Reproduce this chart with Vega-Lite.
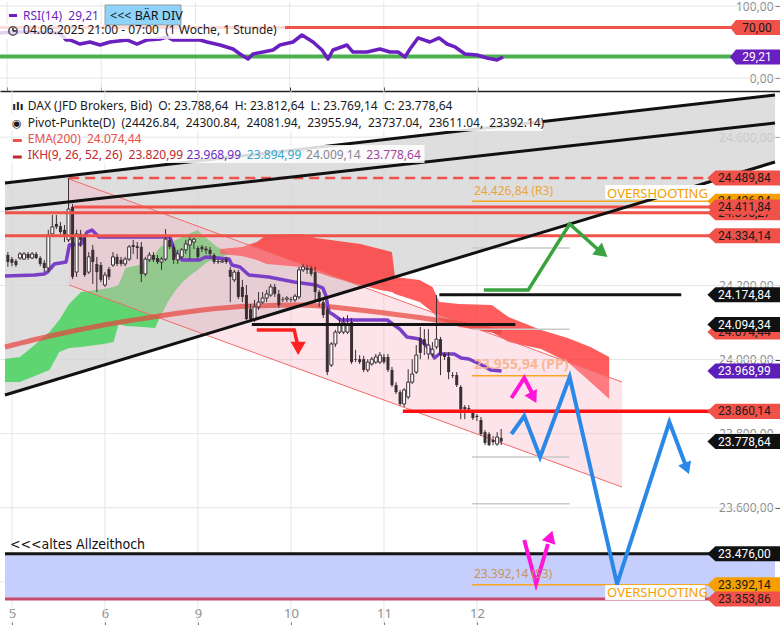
{
"$schema": "https://vega.github.io/schema/vega-lite/v6.json",
"padding": 0,
"spacing": 0,
"bounds": "flush",
"background": "white",
"config": {"view": {"stroke": null}, "font": "Noto Sans", "axis": {"labelFont": "Noto Sans", "minExtent": 0}},
"datasets": {
"kerzen": [
{"i":-1,"o":24282,"h":24290,"l":24250,"c":24263},{"i":0,"o":24271,"h":24277,"l":24252,"c":24261},{"i":1,"o":24266,"h":24271,"l":24250,"c":24255},{"i":2,"o":24274,"h":24290,"l":24269,"c":24285},{"i":3,"o":24271,"h":24290,"l":24269,"c":24285},{"i":4,"o":24285,"h":24290,"l":24269,"c":24274},{"i":5,"o":24274,"h":24290,"l":24271,"c":24285},{"i":6,"o":24285,"h":24290,"l":24271,"c":24274},{"i":7,"o":24274,"h":24279,"l":24252,"c":24258},{"i":8,"o":24261,"h":24269,"l":24236,"c":24247},
{"i":9,"o":24247,"h":24350,"l":24236,"c":24336},{"i":10,"o":24339,"h":24390,"l":24333,"c":24358},{"i":11,"o":24366,"h":24390,"l":24352,"c":24358},{"i":12,"o":24360,"h":24371,"l":24339,"c":24344},{"i":13,"o":24350,"h":24363,"l":24317,"c":24336},{"i":14,"o":24323,"h":24490,"l":24317,"c":24406},{"i":15,"o":24412,"h":24420,"l":24217,"c":24223},{"i":16,"o":24236,"h":24350,"l":24223,"c":24339},{"i":17,"o":24339,"h":24350,"l":24304,"c":24323},{"i":18,"o":24328,"h":24339,"l":24223,"c":24228},
{"i":19,"o":24236,"h":24290,"l":24231,"c":24277},{"i":20,"o":24296,"h":24309,"l":24204,"c":24263},{"i":21,"o":24258,"h":24277,"l":24182,"c":24236},{"i":22,"o":24255,"h":24263,"l":24209,"c":24215},{"i":23,"o":24201,"h":24236,"l":24196,"c":24228},{"i":24,"o":24244,"h":24250,"l":24215,"c":24223},{"i":25,"o":24255,"h":24290,"l":24250,"c":24277},{"i":26,"o":24277,"h":24285,"l":24252,"c":24258},{"i":27,"o":24269,"h":24277,"l":24252,"c":24258},{"i":28,"o":24258,"h":24277,"l":24252,"c":24271},
{"i":29,"o":24271,"h":24309,"l":24266,"c":24304},{"i":30,"o":24309,"h":24323,"l":24285,"c":24304},{"i":31,"o":24306,"h":24317,"l":24271,"c":24301},{"i":32,"o":24304,"h":24317,"l":24209,"c":24231},{"i":33,"o":24231,"h":24277,"l":24225,"c":24271},{"i":34,"o":24269,"h":24290,"l":24263,"c":24282},{"i":35,"o":24282,"h":24290,"l":24263,"c":24269},{"i":36,"o":24274,"h":24282,"l":24258,"c":24263},{"i":37,"o":24263,"h":24277,"l":24242,"c":24271},{"i":38,"o":24271,"h":24352,"l":24266,"c":24325},
{"i":39,"o":24323,"h":24331,"l":24298,"c":24304},{"i":40,"o":24304,"h":24312,"l":24258,"c":24269},{"i":41,"o":24269,"h":24296,"l":24258,"c":24285},{"i":42,"o":24277,"h":24301,"l":24271,"c":24296},{"i":43,"o":24296,"h":24323,"l":24285,"c":24312},{"i":44,"o":24309,"h":24331,"l":24271,"c":24323},{"i":45,"o":24317,"h":24328,"l":24298,"c":24325},{"i":46,"o":24301,"h":24306,"l":24271,"c":24277},{"i":47,"o":24304,"h":24309,"l":24290,"c":24298},{"i":48,"o":24296,"h":24306,"l":24285,"c":24298},
{"i":49,"o":24296,"h":24304,"l":24279,"c":24285},{"i":50,"o":24282,"h":24287,"l":24258,"c":24263},{"i":51,"o":24266,"h":24271,"l":24258,"c":24263},{"i":52,"o":24263,"h":24271,"l":24261,"c":24266},{"i":53,"o":24271,"h":24277,"l":24258,"c":24263},{"i":54,"o":24242,"h":24250,"l":24155,"c":24223},{"i":55,"o":24215,"h":24242,"l":24209,"c":24236},{"i":56,"o":24236,"h":24242,"l":24163,"c":24169},{"i":57,"o":24196,"h":24215,"l":24155,"c":24169},{"i":58,"o":24174,"h":24201,"l":24107,"c":24109},
{"i":59,"o":24136,"h":24150,"l":24101,"c":24109},{"i":60,"o":24109,"h":24161,"l":24101,"c":24142},{"i":61,"o":24142,"h":24182,"l":24134,"c":24155},{"i":62,"o":24155,"h":24182,"l":24150,"c":24166},{"i":63,"o":24166,"h":24188,"l":24155,"c":24177},{"i":64,"o":24174,"h":24204,"l":24169,"c":24196},{"i":65,"o":24196,"h":24204,"l":24169,"c":24177},{"i":66,"o":24177,"h":24188,"l":24139,"c":24147},{"i":67,"o":24163,"h":24169,"l":24155,"c":24161},{"i":68,"o":24163,"h":24171,"l":24155,"c":24166},
{"i":69,"o":24163,"h":24169,"l":24155,"c":24161},{"i":70,"o":24161,"h":24177,"l":24155,"c":24171},{"i":71,"o":24169,"h":24250,"l":24163,"c":24242},{"i":72,"o":24242,"h":24258,"l":24236,"c":24250},{"i":73,"o":24247,"h":24255,"l":24231,"c":24242},{"i":74,"o":24247,"h":24252,"l":24225,"c":24231},{"i":75,"o":24236,"h":24250,"l":24155,"c":24182},{"i":76,"o":24182,"h":24188,"l":24142,"c":24155},{"i":77,"o":24155,"h":24161,"l":24112,"c":24120},{"i":78,"o":24136,"h":24142,"l":23958,"c":23966},
{"i":79,"o":23985,"h":24047,"l":23980,"c":24042},{"i":80,"o":24042,"h":24080,"l":24034,"c":24074},{"i":81,"o":24074,"h":24112,"l":24069,"c":24093},{"i":82,"o":24074,"h":24115,"l":24069,"c":24101},{"i":83,"o":24074,"h":24120,"l":24069,"c":24096},{"i":84,"o":24101,"h":24112,"l":23988,"c":23993},{"i":85,"o":24001,"h":24026,"l":23993,"c":23999},{"i":86,"o":24001,"h":24012,"l":23988,"c":23993},{"i":87,"o":24001,"h":24010,"l":23966,"c":23972},{"i":88,"o":23972,"h":24001,"l":23966,"c":23993},
{"i":89,"o":23988,"h":24007,"l":23983,"c":24001},{"i":90,"o":23993,"h":24015,"l":23988,"c":24007},{"i":91,"o":23993,"h":24020,"l":23988,"c":24012},{"i":92,"o":24007,"h":24015,"l":23988,"c":23993},{"i":93,"o":24007,"h":24015,"l":23966,"c":23972},{"i":94,"o":23972,"h":23980,"l":23926,"c":23931},{"i":95,"o":23931,"h":23939,"l":23907,"c":23912},{"i":96,"o":23912,"h":23918,"l":23875,"c":23880},{"i":97,"o":23880,"h":23923,"l":23872,"c":23918},{"i":98,"o":23899,"h":23974,"l":23893,"c":23939},
{"i":99,"o":23939,"h":24001,"l":23934,"c":23961},{"i":100,"o":23966,"h":24039,"l":23961,"c":24012},{"i":101,"o":24058,"h":24088,"l":24001,"c":24018},{"i":102,"o":24055,"h":24082,"l":24012,"c":24039},{"i":103,"o":24015,"h":24082,"l":24001,"c":24039},{"i":104,"o":24015,"h":24047,"l":24007,"c":24028},{"i":105,"o":24034,"h":24174,"l":24028,"c":24055},{"i":106,"o":24055,"h":24061,"l":23958,"c":24012},{"i":107,"o":24015,"h":24020,"l":23999,"c":24007},{"i":108,"o":24007,"h":24020,"l":23947,"c":23966},
{"i":109,"o":23958,"h":23966,"l":23950,"c":23956},{"i":110,"o":23958,"h":23966,"l":23926,"c":23931},{"i":111,"o":23926,"h":23931,"l":23839,"c":23866},{"i":112,"o":23872,"h":23877,"l":23839,"c":23866},{"i":113,"o":23869,"h":23877,"l":23858,"c":23866},{"i":114,"o":23858,"h":23864,"l":23837,"c":23842},{"i":115,"o":23848,"h":23853,"l":23834,"c":23845},{"i":116,"o":23837,"h":23845,"l":23794,"c":23799},{"i":117,"o":23804,"h":23810,"l":23769,"c":23775},{"i":118,"o":23799,"h":23804,"l":23767,"c":23769},
{"i":119,"o":23783,"h":23794,"l":23769,"c":23777},{"i":120,"o":23772,"h":23804,"l":23767,"c":23791},{"i":121,"o":23788.64,"h":23812.64,"l":23769.14,"c":23778.64}
],
"rsi": [
{"i":-1.71,"v":62.5},{"i":0.73,"v":63.9},{"i":5.62,"v":63.9},{"i":12.94,"v":62.5},{"i":14.4,"v":52.8},{"i":15.38,"v":52.8},{"i":17.82,"v":47.2},{"i":20.26,"v":50.0},{"i":22.71,"v":45.8},{"i":25.15,"v":50.0},{"i":29.3,"v":52.8},{"i":31.74,"v":47.2},{"i":34.18,"v":52.8},{"i":37.35,"v":54.2},{"i":39.06,"v":56.9},{"i":40.53,"v":52.8},{"i":43.95,"v":52.8},{"i":47.12,"v":52.8},{"i":48.83,"v":50.0},{"i":52.0,"v":45.8},{"i":55.18,"v":40.3},{"i":56.88,"v":33.3},{"i":58.84,"v":26.4},{"i":60.06,"v":33.3},{"i":62.5,"v":36.1},{"i":64.94,"v":38.9},{"i":66.65,"v":45.8},{"i":69.82,"v":50.0},{"i":72.02,"v":59.7},{"i":74.71,"v":50.0},{"i":76.9,"v":38.9},{"i":78.37,"v":26.4},{"i":79.59,"v":38.9},{"i":83.01,"v":45.8},{"i":84.47,"v":36.1},{"i":87.89,"v":36.1},{"i":91.06,"v":40.3},{"i":93.51,"v":36.1},{"i":95.46,"v":36.1},{"i":97.17,"v":29.2},{"i":98.39,"v":40.3},{"i":100.34,"v":55.6},{"i":103.27,"v":50.0},{"i":105.47,"v":55.6},{"i":107.42,"v":47.2},{"i":109.38,"v":43.1},{"i":111.82,"v":33.3},{"i":114.75,"v":31.9},{"i":117.19,"v":27.8},{"i":119.63,"v":25.0},{"i":121.09,"v":29.21}
],
"ema": [
{"i":-1.71,"p":24033.8},{"i":10.5,"p":24066.2},{"i":22.7,"p":24093.2},{"i":34.9,"p":24114.8},{"i":47.1,"p":24133.7},{"i":59.3,"p":24144.5},{"i":71.5,"p":24147.2},{"i":83.7,"p":24136.4},{"i":95.9,"p":24120.2},{"i":108.2,"p":24101.3},{"i":121.1,"p":24074.44}
],
"kijun": [
{"i":-1.71,"p":24225.4},{"i":5.6,"p":24228.1},{"i":8.0,"p":24230.8},{"i":8.8,"p":24236.2},{"i":10.5,"p":24257.8},{"i":13.4,"p":24263.2},{"i":14.2,"p":24309.0},{"i":17.1,"p":24311.7},{"i":18.6,"p":24344.1},{"i":19.8,"p":24349.5},{"i":21.5,"p":24330.6},{"i":39.1,"p":24330.6},{"i":40.5,"p":24282.1},{"i":42.2,"p":24268.6},{"i":46.4,"p":24268.6},{"i":47.9,"p":24276.7},{"i":53.7,"p":24271.3},{"i":54.4,"p":24255.0},{"i":56.4,"p":24249.7},{"i":58.6,"p":24228.1},{"i":63.5,"p":24222.7},{"i":69.8,"p":24209.3},{"i":75.2,"p":24201.1},{"i":76.9,"p":24193.0},{"i":77.6,"p":24174.1},{"i":78.4,"p":24128.3},{"i":79.6,"p":24120.2},{"i":81.3,"p":24106.7},{"i":92.8,"p":24106.7},{"i":95.9,"p":24082.4},{"i":97.7,"p":24060.8},{"i":100.8,"p":24055.4},{"i":103.3,"p":24028.4},{"i":104.5,"p":24004.1},{"i":105.7,"p":24014.9},{"i":109.4,"p":24014.9},{"i":111.1,"p":24004.1},{"i":113.0,"p":24001.4},{"i":116.2,"p":23985.2},{"i":118.4,"p":23971.7},{"i":121.1,"p":23968.99}
],
"gruen": [
{"i":-1.71,"oben":24001.4,"unten":23939.3},{"i":1.95,"oben":24006.8,"unten":23939.3},{"i":5.62,"oben":24039.2,"unten":23955.5},{"i":9.28,"oben":24074.3,"unten":23971.7},{"i":11.72,"oben":24106.7,"unten":24020.3},{"i":14.16,"oben":24149.8,"unten":24031.1},{"i":17.09,"oben":24182.2,"unten":24033.8},{"i":22.71,"oben":24190.3,"unten":24041.9},{"i":25.15,"oben":24195.7,"unten":24047.3},{"i":26.37,"oben":24201.1,"unten":24095.9},{"i":28.08,"oben":24247.0,"unten":24090.5},{"i":32.47,"oben":24257.8,"unten":24087.8},{"i":35.4,"oben":24284.8,"unten":24085.1},{"i":36.62,"oben":24303.7,"unten":24114.8},{"i":38.57,"oben":24311.7,"unten":24155.2},{"i":40.53,"oben":24322.5,"unten":24187.6},{"i":42.24,"oben":24330.6,"unten":24209.2},{"i":44.19,"oben":24341.4,"unten":24228.1},{"i":45.9,"oben":24349.5,"unten":24241.6},{"i":48.34,"oben":24325.2,"unten":24263.2},{"i":50.78,"oben":24303.7,"unten":24274.0},{"i":53.96,"oben":24284.8,"unten":24284.8}
],
"rotwolke": [
{"i":51.51,"oben":24298.3,"unten":24284.8},{"i":56.88,"oben":24303.7,"unten":24279.4},{"i":60.55,"oben":24317.1,"unten":24268.6},{"i":62.99,"oben":24336.0,"unten":24257.8},{"i":71.53,"oben":24338.7,"unten":24249.7},{"i":75.2,"oben":24327.9,"unten":24236.2},{"i":78.86,"oben":24322.5,"unten":24222.7},{"i":86.18,"oben":24311.7,"unten":24201.1},{"i":91.06,"oben":24298.3,"unten":24187.6},{"i":93.99,"oben":24290.2,"unten":24182.2},{"i":94.73,"oben":24222.7,"unten":24176.8},{"i":100.83,"oben":24214.6,"unten":24155.2},{"i":104.0,"oben":24195.7,"unten":24128.3},{"i":105.71,"oben":24155.2,"unten":24106.7},{"i":110.6,"oben":24149.8,"unten":24087.8},{"i":118.65,"oben":24147.1,"unten":24074.3},{"i":122.8,"oben":24114.8,"unten":24047.3},{"i":130.86,"oben":24079.7,"unten":24028.4},{"i":137.45,"oben":24058.1,"unten":23993.3},{"i":143.07,"oben":24033.8,"unten":23939.3},{"i":147.71,"oben":24006.8,"unten":23893.4}
],
"hlinien": [
{"i":15.38,"i2":188.72,"p":24411.84,"typ":"rot"},
{"i":-1.709,"i2":188.72,"p":24396.27,"typ":"rot"},
{"i":-1.709,"i2":188.72,"p":24334.14,"typ":"rot"},
{"i":113.77,"i2":188.72,"p":24426.84,"typ":"orange"},
{"i":113.77,"i2":137.94,"p":24300.84,"typ":"pivot"},
{"i":113.77,"i2":137.94,"p":24081.94,"typ":"pivot"},
{"i":113.77,"i2":137.94,"p":23955.94,"typ":"orange"},
{"i":113.77,"i2":137.94,"p":23737.04,"typ":"pivot"},
{"i":113.77,"i2":137.94,"p":23611.04,"typ":"pivot"},
{"i":113.77,"i2":188.72,"p":23392.14,"typ":"orange"},
{"i":105.71,"i2":165.53,"p":24174.84,"typ":"schwarz"},
{"i":59.33,"i2":124.51,"p":24094.34,"typ":"schwarz"},
{"i":96.68,"i2":188.72,"p":23860.14,"typ":"rot2"},
{"i":-1.709,"i2":188.72,"p":23476.0,"typ":"schwarz"},
{"i":-1.709,"i2":188.72,"p":23353.86,"typ":"tief"}
],
"trend": [
{"i":-1.709,"p":24476.4,"i2":188.72,"p2":24713.8},
{"i":-1.709,"p":24406.2,"i2":188.72,"p2":24638.2},
{"i":-1.709,"p":23904.3,"i2":188.72,"p2":24533.0}
],
"flaggen": [
{"p":24426.84,"txt":"24.426,84","typ":"orange","ebene":0},
{"p":24396.27,"txt":"24.396,27","typ":"rot","ebene":0},
{"p":24074.44,"txt":"24.074,44","typ":"rot","ebene":0},
{"p":24489.84,"txt":"24.489,84","typ":"rot","ebene":1},
{"p":24411.84,"txt":"24.411,84","typ":"rot","ebene":1},
{"p":24334.14,"txt":"24.334,14","typ":"rot","ebene":1},
{"p":24174.84,"txt":"24.174,84","typ":"schwarz","ebene":1},
{"p":24094.34,"txt":"24.094,34","typ":"schwarz","ebene":1},
{"p":23968.99,"txt":"23.968,99","typ":"lila","ebene":1},
{"p":23860.14,"txt":"23.860,14","typ":"rot","ebene":1},
{"p":23778.64,"txt":"23.778,64","typ":"schwarz","ebene":1},
{"p":23476.0,"txt":"23.476,00","typ":"schwarz","ebene":1},
{"p":23392.14,"txt":"23.392,14","typ":"orange","ebene":1},
{"p":23353.86,"txt":"23.353,86","typ":"rot","ebene":1}
],
"legende": [
{"i":3.91,"p":24673.3,"txt":"DAX (JFD Brokers, Bid)\u00a0\u00a0O: 23.788,64\u00a0\u00a0H: 23.812,64\u00a0\u00a0L: 23.769,14\u00a0\u00a0C: 23.778,64","reihe":"DAX"},
{"i":3.91,"p":24628.8,"txt":"Pivot-Punkte(D)\u00a0\u00a0(24426.84,\u00a0\u00a024300.84,\u00a0\u00a024081.94,\u00a0\u00a023955.94,\u00a0\u00a023737.04,\u00a0\u00a023611.04,\u00a0\u00a023392.14)","reihe":"DAX"},
{"i":3.91,"p":24584.3,"txt":"EMA(200)\u00a0\u00a024.074,44","reihe":"EMA"},
{"i":3.91,"p":24539.8,"txt":"IKH(9, 26, 52, 26)\u00a0\u00a023.820,99","reihe":"Tenkan"},
{"i":43.2,"p":24539.8,"txt":"23.968,99","reihe":"Kijun"},
{"i":58.1,"p":24539.8,"txt":"23.894,99","reihe":"SenkouA"},
{"i":72.75,"p":24539.8,"txt":"24.009,14","reihe":"SenkouB"},
{"i":87.65,"p":24539.8,"txt":"23.778,64","reihe":"Chikou"}
],
"gitter_x": [{"i":0},{"i":23},{"i":46},{"i":69},{"i":92},{"i":115}],
"gitter_p": [{"p":23400},{"p":23600},{"p":23800},{"p":24000},{"p":24200},{"p":24400},{"p":24600}],
"gitter_v": [{"v":0},{"v":100}]
},
"vconcat": [
{
"width": 780,
"height": 89,
"layer": [
{"data": {"name": "gitter_v"},
 "mark": {"type": "rule", "color": "#e6e6e6", "strokeWidth": 1, "clip": true},
 "encoding": {"y": {"field": "v", "type": "quantitative", "scale": {"domain": [-18, 105.5], "nice": false, "zero": false},
   "axis": {"orient": "left", "offset": -780, "values": [0, 100], "labelExpr": "replace(format(datum.value, '.2f'), '.', ',')", "labelBaseline": {"condition": {"test": "datum.value == 100", "value": "top"}, "value": "middle"}, "labelOffset": {"condition": {"test": "datum.value == 100", "value": -4}, "value": 0}, "title": null, "domain": false, "tickSize": 5, "tickColor": "#333", "labelColor": "#8c8c8c", "labelFontSize": 12, "labelPadding": 2, "grid": false}}}},
{"data": {"name": "gitter_x"},
 "mark": {"type": "rule", "color": "#e6e6e6", "strokeWidth": 1, "clip": true},
 "encoding": {"x": {"field": "i", "type": "quantitative", "scale": {"domain": [-1.709, 188.72], "nice": false, "zero": false},
     "axis": {"orient": "top", "offset": -89, "values": [0, 23, 46, 69, 92, 115], "labels": false, "title": null, "domain": true, "domainColor": "#222", "domainWidth": 1.5, "tickSize": 4, "tickColor": "#222", "grid": false}}}},
{"data": {"values": [{"v": 70}]},
 "mark": {"type": "rule", "color": "#f0524a", "strokeWidth": 3, "clip": true},
 "encoding": {"y": {"field": "v", "type": "quantitative"}}},
{"data": {"values": [{"v": 30}]},
 "mark": {"type": "rule", "color": "#4caf50", "strokeWidth": 4, "clip": true},
 "encoding": {"y": {"field": "v", "type": "quantitative"}}},
{"data": {"name": "rsi"},
 "mark": {"type": "line", "color": "#6a1fc0", "strokeWidth": 3.5, "strokeJoin": "round", "clip": true},
 "encoding": {"x": {"field": "i", "type": "quantitative"}, "y": {"field": "v", "type": "quantitative"}}},
{"data": {"values": [{"i": -1.709, "i2": 67.87, "v": 75.0, "v2": 54.2}]},
 "mark": {"type": "rect", "color": "white", "opacity": 0.8, "clip": true},
 "encoding": {"x": {"field": "i", "type": "quantitative"}, "x2": {"field": "i2"}, "y": {"field": "v", "type": "quantitative"}, "y2": {"field": "v2"}}},
{"data": {"values": [{"i": 23.93, "i2": 42.48, "v": 101.4, "v2": 73.6}]},
 "mark": {"type": "rect", "fill": "#8fd3fb", "stroke": "#9a9a9a", "strokeWidth": 1},
 "encoding": {"x": {"field": "i", "type": "quantitative"}, "x2": {"field": "i2"}, "y": {"field": "v", "type": "quantitative"}, "y2": {"field": "v2"}}},
{"data": {"values": [{"i": 0.49, "i2": 2.44, "v": 86.8}]},
 "mark": {"type": "rule", "color": "#6a1fc0", "strokeWidth": 3},
 "encoding": {"x": {"field": "i", "type": "quantitative"}, "x2": {"field": "i2"}, "y": {"field": "v", "type": "quantitative"}}},
{"data": {"values": [{"i": 3.91, "v": 80.6, "txt": "RSI(14)\u00a0\u00a029,21"}]},
 "mark": {"type": "text", "align": "left", "baseline": "alphabetic", "fontSize": 12, "color": "#6a1fc0"},
 "encoding": {"x": {"field": "i", "type": "quantitative"}, "y": {"field": "v", "type": "quantitative"}, "text": {"field": "txt"}}},
{"data": {"values": [{"i": 25.15, "v": 80.2, "txt": "<<< BÄR DIV"}]},
 "mark": {"type": "text", "align": "left", "baseline": "alphabetic", "fontSize": 12.5, "color": "#111"},
 "encoding": {"x": {"field": "i", "type": "quantitative"}, "y": {"field": "v", "type": "quantitative"}, "text": {"field": "txt"}}},
{"data": {"values": [{"i": 3.91, "v": 61.1, "txt": "04.06.2025 21:00 - 07:00\u00a0\u00a0(1 Woche, 1 Stunde)"}]},
 "mark": {"type": "text", "align": "left", "baseline": "alphabetic", "fontSize": 12, "color": "#1a1a1a"},
 "encoding": {"x": {"field": "i", "type": "quantitative"}, "y": {"field": "v", "type": "quantitative"}, "text": {"field": "txt"}}},
{"data": {"values": [{"i": 1.46, "v": 65.3}]},
 "mark": {"type": "point", "shape": "circle", "size": 70, "filled": false, "stroke": "#1a1a1a", "strokeWidth": 1.6},
 "encoding": {"x": {"field": "i", "type": "quantitative"}, "y": {"field": "v", "type": "quantitative"}}},
{"data": {"values": [{"i": 1.46, "i2": 1.46, "v": 65.3, "v2": 69.5}, {"i": 1.46, "i2": 2.3, "v": 65.3, "v2": 65.3}]},
 "mark": {"type": "rule", "color": "#1a1a1a", "strokeWidth": 1.4},
 "encoding": {"x": {"field": "i", "type": "quantitative"}, "x2": {"field": "i2"}, "y": {"field": "v", "type": "quantitative"}, "y2": {"field": "v2"}}},
{"data": {"values": [{"v": 70, "txt": "70,00", "typ": "rot"}, {"v": 29.21, "txt": "29,21", "typ": "lila"}]},
 "mark": {"type": "point", "shape": "M-1,0L-0.78,-0.278L1,-0.278L1,0.278L-0.78,0.278Z", "size": 2916, "filled": true, "opacity": 1, "strokeWidth": 0, "clip": true},
 "encoding": {"x": {"datum": 183.1, "type": "quantitative"}, "y": {"field": "v", "type": "quantitative"},
   "color": {"condition": {"test": "datum.typ === 'lila'", "value": "#6a1fc0"}, "value": "#f0524a"}}},
{"data": {"values": [{"v": 70, "txt": "70,00", "typ": "rot"}, {"v": 29.21, "txt": "29,21", "typ": "lila"}]},
 "mark": {"type": "text", "align": "center", "baseline": "middle", "fontSize": 12, "font": "Roboto"},
 "encoding": {"x": {"datum": 183.1, "type": "quantitative"}, "y": {"field": "v", "type": "quantitative"}, "text": {"field": "txt"},
   "color": {"condition": {"test": "datum.typ === 'lila'", "value": "#ffffff"}, "value": "#1a1a1a"}}}
]
},
{
"width": 780,
"height": 536,
"layer": [
{"data": {"name": "gitter_p"},
 "mark": {"type": "rule", "color": "#e6e6e6", "strokeWidth": 1, "clip": true},
 "encoding": {"y": {"field": "p", "type": "quantitative", "scale": {"domain": [23278.3, 24724.6], "nice": false, "zero": false},
     "axis": {"orient": "left", "offset": -780, "values": [23400, 23600, 23800, 24000, 24200, 24400, 24600], "labelExpr": "replace(replace(replace(format(datum.value, ',.2f'), ',', '#'), '.', ','), '#', '.')", "title": null, "domain": false, "tickSize": 5, "tickColor": "#333", "labelColor": "#8c8c8c", "labelFontSize": 12, "labelPadding": 2, "grid": false}}}},
{"data": {"name": "gitter_x"},
 "mark": {"type": "rule", "color": "#e6e6e6", "strokeWidth": 1, "clip": true},
 "encoding": {"x": {"field": "i", "type": "quantitative", "scale": {"domain": [-1.709, 188.72], "nice": false, "zero": false},
     "axis": {"orient": "top", "offset": -536, "values": [0, 23, 46, 69, 92, 115], "labelExpr": "datum.value == 0 ? '5' : datum.value == 23 ? '6' : datum.value == 46 ? '9' : datum.value == 69 ? '10' : datum.value == 92 ? '11' : '12'", "labelFlush": false, "title": null, "domain": false, "tickSize": 5, "tickColor": "#333", "labelColor": "#8c8c8c", "labelFontSize": 13, "labelPadding": 2, "grid": false}}}},
{"data": {"values": [{"i": -1.709, "a": 24476.4, "l": 23904.3}, {"i": 188.72, "a": 24713.8, "l": 24533.0}]},
 "mark": {"type": "area", "color": "#d6d6d6", "opacity": 0.8, "clip": true},
 "encoding": {"x": {"field": "i", "type": "quantitative"}, "y": {"field": "a", "type": "quantitative"}, "y2": {"field": "l"}}},
{"data": {"values": [{"i": -1.709, "p": 23476.0, "p2": 23353.86}, {"i": 188.72, "p": 23476.0, "p2": 23353.86}]},
 "mark": {"type": "area", "color": "#c3cbfb", "opacity": 0.95, "clip": true},
 "encoding": {"x": {"field": "i", "type": "quantitative"}, "y": {"field": "p", "type": "quantitative"}, "y2": {"field": "p2"}}},
{"data": {"name": "gruen"},
 "mark": {"type": "area", "color": "#3fd256", "opacity": 0.8, "clip": true},
 "encoding": {"x": {"field": "i", "type": "quantitative"}, "y": {"field": "oben", "type": "quantitative"}, "y2": {"field": "unten"}}},
{"data": {"name": "rotwolke"},
 "mark": {"type": "area", "color": "#ff3030", "opacity": 0.78, "clip": true},
 "encoding": {"x": {"field": "i", "type": "quantitative"}, "y": {"field": "oben", "type": "quantitative"}, "y2": {"field": "unten"}}},
{"data": {"values": [{"i": 14.16, "oben": 24487.1, "unten": 24201.1}, {"i": 150.88, "oben": 23939.4, "unten": 23656.0}]},
 "mark": {"type": "area", "color": "#f6b3c4", "opacity": 0.35, "clip": true},
 "encoding": {"x": {"field": "i", "type": "quantitative"}, "y": {"field": "oben", "type": "quantitative"}, "y2": {"field": "unten"}}},
{"data": {"values": [{"i": 14.16, "p": 24487.1, "i2": 150.88, "p2": 23939.4}, {"i": 14.16, "p": 24201.1, "i2": 150.88, "p2": 23656.0}]},
 "mark": {"type": "rule", "color": "#f26b6b", "strokeWidth": 1, "clip": true},
 "encoding": {"x": {"field": "i", "type": "quantitative"}, "x2": {"field": "i2"}, "y": {"field": "p", "type": "quantitative"}, "y2": {"field": "p2"}}},
{"data": {"name": "ema"},
 "mark": {"type": "line", "color": "#e8453f", "opacity": 0.72, "strokeWidth": 5, "interpolate": "monotone", "clip": true},
 "encoding": {"x": {"field": "i", "type": "quantitative"}, "y": {"field": "p", "type": "quantitative"}}},
{"data": {"name": "kijun"},
 "mark": {"type": "line", "color": "#7a3fc6", "strokeWidth": 3.5, "strokeJoin": "round", "clip": true},
 "encoding": {"x": {"field": "i", "type": "quantitative"}, "y": {"field": "p", "type": "quantitative"}}},
{"data": {"name": "kerzen"},
 "mark": {"type": "rule", "color": "#3b2e33", "strokeWidth": 1, "clip": true},
 "encoding": {"x": {"field": "i", "type": "quantitative"}, "y": {"field": "h", "type": "quantitative"}, "y2": {"field": "l"}}},
{"data": {"name": "kerzen"},
 "transform": [{"filter": "datum.c < datum.o"}],
 "mark": {"type": "bar", "width": 3, "color": "#3b2e33", "clip": true},
 "encoding": {"x": {"field": "i", "type": "quantitative"}, "y": {"field": "o", "type": "quantitative"}, "y2": {"field": "c"}}},
{"data": {"name": "kerzen"},
 "transform": [{"filter": "datum.c >= datum.o"}],
 "mark": {"type": "bar", "width": 3, "fill": "#ffffff", "stroke": "#3b2e33", "strokeWidth": 1, "clip": true},
 "encoding": {"x": {"field": "i", "type": "quantitative"}, "y": {"field": "o", "type": "quantitative"}, "y2": {"field": "c"}}},
{"data": {"values": [{"i": 14.16, "i2": 188.72, "p": 24489.84}]},
 "mark": {"type": "rule", "color": "#f0524a", "strokeWidth": 2.5, "strokeDash": [10, 6], "clip": true},
 "encoding": {"x": {"field": "i", "type": "quantitative"}, "x2": {"field": "i2"}, "y": {"field": "p", "type": "quantitative"}}},
{"data": {"name": "hlinien"},
 "mark": {"type": "rule", "clip": true},
 "encoding": {"x": {"field": "i", "type": "quantitative"}, "x2": {"field": "i2"}, "y": {"field": "p", "type": "quantitative"},
   "color": {"condition": [
     {"test": "datum.typ === 'rot'", "value": "#f0524a"},
     {"test": "datum.typ === 'rot2'", "value": "#ff1010"},
     {"test": "datum.typ === 'orange'", "value": "#f5a623"},
     {"test": "datum.typ === 'pivot'", "value": "#c9c9c9"},
     {"test": "datum.typ === 'tief'", "value": "#c54a6c"}], "value": "#141414"},
   "strokeWidth": {"condition": [{"test": "datum.typ === 'orange' || datum.typ === 'pivot'", "value": 1.5}, {"test": "datum.typ === 'rot2'", "value": 3.5}], "value": 3}}},
{"data": {"name": "trend"},
 "mark": {"type": "rule", "color": "#111111", "strokeWidth": 3, "clip": true},
 "encoding": {"x": {"field": "i", "type": "quantitative"}, "x2": {"field": "i2"}, "y": {"field": "p", "type": "quantitative"}, "y2": {"field": "p2"}}},
{"data": {"values": [{"k": 1, "i": 60.55, "p": 24079.7}, {"k": 2, "i": 69.82, "p": 24079.7}, {"k": 3, "i": 70.56, "p": 24044.6}]},
 "mark": {"type": "line", "color": "#ff2020", "strokeWidth": 3.5, "clip": true},
 "encoding": {"x": {"field": "i", "type": "quantitative"}, "y": {"field": "p", "type": "quantitative"}, "order": {"field": "k"}}},
{"data": {"values": [{"i": 70.8, "p": 24030.0}]},
 "mark": {"type": "point", "shape": "triangle-down", "size": 230, "filled": true, "color": "#ff2020", "opacity": 1},
 "encoding": {"x": {"field": "i", "type": "quantitative"}, "y": {"field": "p", "type": "quantitative"}}},
{"data": {"values": [{"k": 1, "i": 116.7, "p": 24187.6}, {"k": 2, "i": 127.7, "p": 24187.6}, {"k": 3, "i": 137.94, "p": 24365.7}, {"k": 4, "i": 144.8, "p": 24298.3}]},
 "mark": {"type": "line", "color": "#3aa33f", "strokeWidth": 3.5, "clip": true},
 "encoding": {"x": {"field": "i", "type": "quantitative"}, "y": {"field": "p", "type": "quantitative"}, "order": {"field": "k"}}},
{"data": {"values": [{"i": 146.0, "p": 24288.0}]},
 "mark": {"type": "point", "shape": "triangle-right", "size": 240, "filled": true, "color": "#3aa33f", "opacity": 1, "angle": 39},
 "encoding": {"x": {"field": "i", "type": "quantitative"}, "y": {"field": "p", "type": "quantitative"}}},
{"data": {"values": [{"k": 1, "i": 123.54, "p": 23896.1}, {"k": 2, "i": 126.71, "p": 23950.1}, {"k": 3, "i": 128.66, "p": 23909.6}]},
 "mark": {"type": "line", "color": "#ff14d8", "strokeWidth": 4, "clip": true},
 "encoding": {"x": {"field": "i", "type": "quantitative"}, "y": {"field": "p", "type": "quantitative"}, "order": {"field": "k"}}},
{"data": {"values": [{"i": 129.0, "p": 23897.0}]},
 "mark": {"type": "point", "shape": "triangle-right", "size": 200, "filled": true, "color": "#ff14d8", "opacity": 1, "angle": 62},
 "encoding": {"x": {"field": "i", "type": "quantitative"}, "y": {"field": "p", "type": "quantitative"}}},
{"data": {"values": [{"k": 1, "i": 126.71, "p": 23513.0}, {"k": 2, "i": 129.64, "p": 23394.3}, {"k": 3, "i": 132.57, "p": 23502.2}]},
 "mark": {"type": "line", "color": "#ff14d8", "strokeWidth": 4, "clip": true},
 "encoding": {"x": {"field": "i", "type": "quantitative"}, "y": {"field": "p", "type": "quantitative"}, "order": {"field": "k"}}},
{"data": {"values": [{"i": 133.2, "p": 23522.0}]},
 "mark": {"type": "point", "shape": "triangle-right", "size": 200, "filled": true, "color": "#ff14d8", "opacity": 1, "angle": -72},
 "encoding": {"x": {"field": "i", "type": "quantitative"}, "y": {"field": "p", "type": "quantitative"}}},
{"data": {"values": [{"k": 1, "i": 123.54, "p": 23799.1}, {"k": 2, "i": 126.71, "p": 23847.5}, {"k": 3, "i": 130.62, "p": 23736.8}, {"k": 4, "i": 137.94, "p": 23952.8}, {"k": 5, "i": 149.66, "p": 23394.3}, {"k": 6, "i": 162.6, "p": 23831.4}, {"k": 7, "i": 166.5, "p": 23718.2}]},
 "mark": {"type": "line", "color": "#2b88e6", "strokeWidth": 4, "strokeJoin": "miter", "clip": true},
 "encoding": {"x": {"field": "i", "type": "quantitative"}, "y": {"field": "p", "type": "quantitative"}, "order": {"field": "k"}}},
{"data": {"values": [{"i": 166.9, "p": 23706.0}]},
 "mark": {"type": "point", "shape": "triangle-right", "size": 190, "filled": true, "color": "#2b88e6", "opacity": 1, "angle": 69},
 "encoding": {"x": {"field": "i", "type": "quantitative"}, "y": {"field": "p", "type": "quantitative"}}},
{"data": {"values": [{"i": -1.709, "i2": 131.35, "p": 24662.5, "p2": 24616.7}, {"i": -1.709, "i2": 102.05, "p": 24578.9, "p2": 24530.3}]},
 "mark": {"type": "rect", "color": "white", "opacity": 0.85, "clip": true},
 "encoding": {"x": {"field": "i", "type": "quantitative"}, "x2": {"field": "i2"}, "y": {"field": "p", "type": "quantitative"}, "y2": {"field": "p2"}}},
{"data": {"values": [{"i": 0.24, "i2": 2.44, "p": 24591.0, "reihe": "EMA"}, {"i": 0.24, "i2": 2.44, "p": 24546.5, "reihe": "Tenkan"}]},
 "mark": {"type": "rule", "strokeWidth": 3},
 "encoding": {"x": {"field": "i", "type": "quantitative"}, "x2": {"field": "i2"}, "y": {"field": "p", "type": "quantitative"},
   "color": {"condition": {"test": "datum.reihe === 'EMA'", "value": "#e8504a"}, "value": "#c0282d"}}},
{"data": {"values": [{"i": 0.1, "p": 24673.3, "txt": "ılı"}, {"i": 0.0, "p": 24628.8, "txt": "◉"}]},
 "mark": {"type": "text", "align": "left", "baseline": "alphabetic", "fontSize": 11, "font": "DejaVu Sans", "fontWeight": "bold", "color": "#1a1a1a"},
 "encoding": {"x": {"field": "i", "type": "quantitative"}, "y": {"field": "p", "type": "quantitative"}, "text": {"field": "txt"}}},
{"data": {"name": "legende"},
 "mark": {"type": "text", "align": "left", "baseline": "alphabetic", "fontSize": 12},
 "encoding": {"x": {"field": "i", "type": "quantitative"}, "y": {"field": "p", "type": "quantitative"}, "text": {"field": "txt"},
   "color": {"condition": [
     {"test": "datum.reihe === 'EMA'", "value": "#e8504a"},
     {"test": "datum.reihe === 'Tenkan'", "value": "#c0282d"},
     {"test": "datum.reihe === 'Kijun'", "value": "#6a2bc2"},
     {"test": "datum.reihe === 'SenkouA'", "value": "#35a7cc"},
     {"test": "datum.reihe === 'SenkouB'", "value": "#8a8494"},
     {"test": "datum.reihe === 'Chikou'", "value": "#a0479c"}], "value": "#1a1a1a"}}},
{"data": {"values": [{"i": 146.73, "i2": 171.39, "p": 24470.9, "p2": 24433.2}, {"i": 146.73, "i2": 171.39, "p": 23391.6, "p2": 23351.1}]},
 "mark": {"type": "rect", "color": "white", "opacity": 0.95},
 "encoding": {"x": {"field": "i", "type": "quantitative"}, "x2": {"field": "i2"}, "y": {"field": "p", "type": "quantitative"}, "y2": {"field": "p2"}}},
{"data": {"values": [{"i": 147.2, "p": 24437.2, "txt": "OVERSHOOTING"}, {"i": 147.2, "p": 23358.6, "txt": "OVERSHOOTING"}]},
 "mark": {"type": "text", "align": "left", "baseline": "alphabetic", "fontSize": 13, "color": "#f5a000"},
 "encoding": {"x": {"field": "i", "type": "quantitative"}, "y": {"field": "p", "type": "quantitative"}, "text": {"field": "txt"}}},
{"data": {"values": [{"i": 114.26, "p": 24444.0, "txt": "24.426,84 (R3)"}]},
 "mark": {"type": "text", "align": "left", "baseline": "alphabetic", "fontSize": 12, "color": "#e9a53e"},
 "encoding": {"x": {"field": "i", "type": "quantitative"}, "y": {"field": "p", "type": "quantitative"}, "text": {"field": "txt"}}},
{"data": {"values": [{"i": 114.26, "p": 23974.4, "txt": "23.955,94 (PP)"}]},
 "mark": {"type": "text", "align": "left", "baseline": "alphabetic", "fontSize": 14, "fontWeight": "bold", "color": "#f8b088", "opacity": 0.85},
 "encoding": {"x": {"field": "i", "type": "quantitative"}, "y": {"field": "p", "type": "quantitative"}, "text": {"field": "txt"}}},
{"data": {"values": [{"i": 114.26, "p": 23410.5, "txt": "23.392,14 (S3)"}]},
 "mark": {"type": "text", "align": "left", "baseline": "alphabetic", "fontSize": 12, "color": "#c8935e"},
 "encoding": {"x": {"field": "i", "type": "quantitative"}, "y": {"field": "p", "type": "quantitative"}, "text": {"field": "txt"}}},
{"data": {"values": [{"i": -0.49, "p": 23488.8, "txt": "<<<altes Allzeithoch"}]},
 "mark": {"type": "text", "align": "left", "baseline": "alphabetic", "fontSize": 14, "font": "DejaVu Sans Condensed, Liberation Sans, sans-serif", "color": "#111"},
 "encoding": {"x": {"field": "i", "type": "quantitative"}, "y": {"field": "p", "type": "quantitative"}, "text": {"field": "txt"}}},
{"data": {"name": "flaggen"},
 "transform": [{"filter": "datum.ebene == 0"}],
 "mark": {"type": "point", "shape": "M-1,0L-0.784,-0.203L1,-0.203L1,0.203L-0.784,0.203Z", "size": 5476, "filled": true, "opacity": 1, "strokeWidth": 0, "clip": true},
 "encoding": {"x": {"datum": 181.15, "type": "quantitative"}, "y": {"field": "p", "type": "quantitative"},
   "color": {"condition": [{"test": "datum.typ === 'schwarz'", "value": "#111111"}, {"test": "datum.typ === 'lila'", "value": "#5b1eb8"}, {"test": "datum.typ === 'orange'", "value": "#f5a000"}], "value": "#f0524a"}}},
{"data": {"name": "flaggen"},
 "transform": [{"filter": "datum.ebene == 0"}],
 "mark": {"type": "text", "align": "center", "baseline": "middle", "fontSize": 12, "font": "Roboto"},
 "encoding": {"x": {"datum": 181.15, "type": "quantitative"}, "y": {"field": "p", "type": "quantitative"}, "text": {"field": "txt"},
   "color": {"condition": {"test": "datum.typ === 'schwarz' || datum.typ === 'lila'", "value": "#ffffff"}, "value": "#1a1a1a"}}},
{"data": {"name": "flaggen"},
 "transform": [{"filter": "datum.ebene == 1"}],
 "mark": {"type": "point", "shape": "M-1,0L-0.784,-0.203L1,-0.203L1,0.203L-0.784,0.203Z", "size": 5476, "filled": true, "opacity": 1, "strokeWidth": 0, "clip": true},
 "encoding": {"x": {"datum": 181.15, "type": "quantitative"}, "y": {"field": "p", "type": "quantitative"},
   "color": {"condition": [{"test": "datum.typ === 'schwarz'", "value": "#111111"}, {"test": "datum.typ === 'lila'", "value": "#5b1eb8"}, {"test": "datum.typ === 'orange'", "value": "#f5a000"}], "value": "#f0524a"}}},
{"data": {"name": "flaggen"},
 "transform": [{"filter": "datum.ebene == 1"}],
 "mark": {"type": "text", "align": "center", "baseline": "middle", "fontSize": 12, "font": "Roboto"},
 "encoding": {"x": {"datum": 181.15, "type": "quantitative"}, "y": {"field": "p", "type": "quantitative"}, "text": {"field": "txt"},
   "color": {"condition": {"test": "datum.typ === 'schwarz' || datum.typ === 'lila'", "value": "#ffffff"}, "value": "#1a1a1a"}}}
]
}
]
}
